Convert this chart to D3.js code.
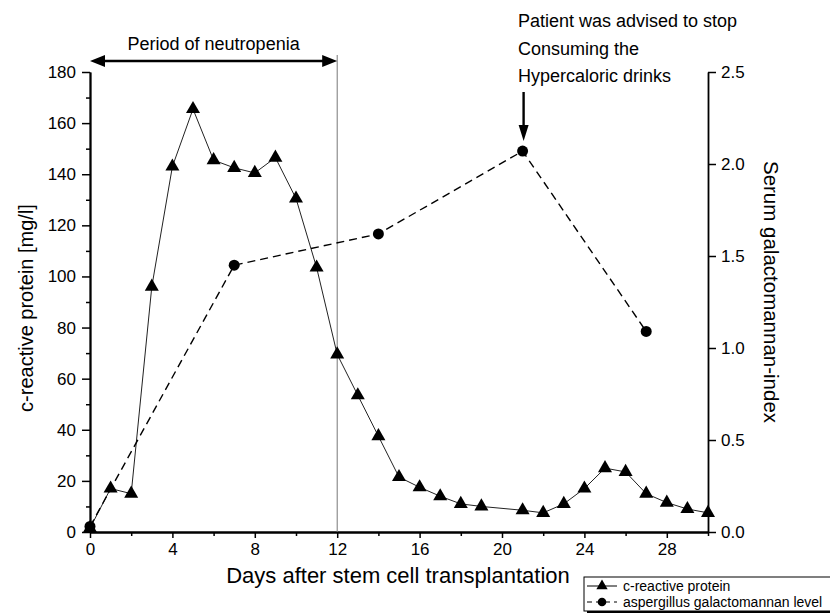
<!DOCTYPE html>
<html><head><meta charset="utf-8">
<script src="https://cdn.jsdelivr.net/npm/d3@7"></script>
<style>body{margin:0;background:#fff}svg{font-family:"Liberation Sans",Arial,sans-serif}</style>
</head><body><svg id="c" width="830" height="613"></svg>
<script>
const crpDays = [0,1,2,3,4,5,6,7,8,9,10,11,12,13,14,15,16,17,18,19,21,22,23,24,25,26,27,28,29,30];
const crpValues = [1.5,17,15,96,143,165.5,145.5,142.5,140.5,146.5,130.5,103.5,69.5,53.5,37.5,21.5,17.5,14,11,10,8.5,7.5,11,17,25,23.5,15,11.5,9,7.5];
const gmDays = [0,7,14,21,27];
const gmValues = [0.03,1.45,1.62,2.07,1.09];
const xTicks = [0,4,8,12,16,20,24,28];
const xMinorTicks = [2,6,10,14,18,22,26,30];
const yLeftTicks = [0,20,40,60,80,100,120,140,160,180];
const yLeftMinorTicks = [10,30,50,70,90,110,130,150,170];
const yRightTicks = [0,0.5,1.0,1.5,2.0,2.5];

const svg = d3.select("#c");
const x = d3.scaleLinear().domain([0,30]).range([90,708]);
const yL = d3.scaleLinear().domain([0,180]).range([532,72]);
const yR = d3.scaleLinear().domain([0,2.5]).range([532,72]);

// axes
svg.append("g").attr("transform","translate(0,532)")
  .call(d3.axisBottom(x).tickValues(xTicks).tickSize(6).tickPadding(5).tickSizeOuter(0));
svg.append("g").attr("transform","translate(0,532)")
  .call(d3.axisBottom(x).tickValues(xMinorTicks).tickSize(4).tickFormat("").tickSizeOuter(0));
svg.append("g").attr("transform","translate(90,0)")
  .call(d3.axisLeft(yL).tickValues(yLeftTicks).tickSize(8).tickPadding(6).tickSizeOuter(0));
svg.append("g").attr("transform","translate(90,0)")
  .call(d3.axisLeft(yL).tickValues(yLeftMinorTicks).tickSize(4).tickFormat("").tickSizeOuter(0));
svg.append("g").attr("transform","translate(708,0)")
  .call(d3.axisRight(yR).tickValues(yRightTicks).tickSize(8).tickPadding(5).tickFormat(d3.format(".1f")).tickSizeOuter(0));
svg.selectAll(".domain").attr("stroke","#000").attr("stroke-width",1.8);
svg.selectAll(".tick line").attr("stroke","#000").attr("stroke-width",1.5);
svg.selectAll(".tick text").attr("font-size",17).attr("fill","#000").attr("font-family","Liberation Sans, Arial, sans-serif");

// vertical line day 12
svg.append("line").attr("x1",x(12)).attr("x2",x(12)).attr("y1",55).attr("y2",532)
  .attr("stroke","#777").attr("stroke-width",1);

// period arrow
const ay = 61;
svg.append("line").attr("x1",x(0)+10).attr("x2",x(12)-10).attr("y1",ay).attr("y2",ay)
  .attr("stroke","#000").attr("stroke-width",2.5);
svg.append("path").attr("d",`M${x(0)},${ay}L${x(0)+15},${ay-6}L${x(0)+15},${ay+6}Z`).attr("fill","#000");
svg.append("path").attr("d",`M${x(12)},${ay}L${x(12)-15},${ay-6}L${x(12)-15},${ay+6}Z`).attr("fill","#000");
svg.append("text").attr("x",(x(0)+x(12))/2).attr("y",50).attr("text-anchor","middle").attr("font-size",18).text("Period of neutropenia");

// annotation
const ann = ["Patient was advised to stop","Consuming the","Hypercaloric drinks"];
svg.append("g").selectAll("text").data(ann).join("text")
  .attr("x",518).attr("y",(d,i)=>27+i*27.5).attr("font-size",18).text(d=>d);
const axx = x(21)+1;
svg.append("line").attr("x1",axx).attr("x2",axx).attr("y1",92).attr("y2",128)
  .attr("stroke","#000").attr("stroke-width",2.4);
svg.append("path").attr("d",`M${axx},141L${axx-5},125L${axx+5},125Z`).attr("fill","#000");

// lines
const crp = crpDays.map((d,i)=>[d,crpValues[i]]);
const gm = gmDays.map((d,i)=>[d,gmValues[i]]);
svg.append("path").datum(crp).attr("fill","none").attr("stroke","#222").attr("stroke-width",1)
  .attr("d",d3.line().x(d=>x(d[0])).y(d=>yL(d[1])));
svg.append("path").datum(gm).attr("fill","none").attr("stroke","#000").attr("stroke-width",1.4).attr("stroke-dasharray","8,5")
  .attr("d",d3.line().x(d=>x(d[0])).y(d=>yR(d[1])));
const tri = d3.symbol().type(d3.symbolTriangle).size(85);
svg.append("g").selectAll("path").data(crp).join("path")
  .attr("d",tri).attr("transform",d=>`translate(${x(d[0])},${yL(d[1])})`).attr("fill","#000");
svg.append("g").selectAll("circle").data(gm).join("circle")
  .attr("cx",d=>x(d[0])).attr("cy",d=>yR(d[1])).attr("r",5.5).attr("fill","#000");

// axis titles
svg.append("text").attr("transform","translate(33,308) rotate(-90)").attr("text-anchor","middle").attr("font-size",20).text("c-reactive protein [mg/l]");
svg.append("text").attr("transform","translate(764,292) rotate(90)").attr("text-anchor","middle").attr("font-size",20.5).text("Serum galactomannan-index");
svg.append("text").attr("x",398).attr("y",583).attr("text-anchor","middle").attr("font-size",22).text("Days after stem cell transplantation");

// legend
const lg = svg.append("g");
lg.append("rect").attr("x",587).attr("y",580).attr("width",250).attr("height",40).attr("fill","#000");
lg.append("rect").attr("x",584).attr("y",577).attr("width",250).attr("height",34).attr("fill","#fff").attr("stroke","#000").attr("stroke-width",1);
const legItems = [{name:"c-reactive protein",dash:null,sym:"tri"},{name:"aspergillus galactomannan level",dash:"5,4",sym:"circ"}];
legItems.forEach((it,i)=>{
  const yy = 586+i*16;
  lg.append("line").attr("x1",587).attr("x2",617).attr("y1",yy).attr("y2",yy).attr("stroke","#000").attr("stroke-width",1).attr("stroke-dasharray",it.dash);
  if(it.sym==="tri") lg.append("path").attr("d",d3.symbol().type(d3.symbolTriangle).size(55)).attr("transform",`translate(602,${yy})`);
  else lg.append("circle").attr("cx",602).attr("cy",yy).attr("r",4.3);
  lg.append("text").attr("x",623).attr("y",yy+5).attr("font-size",14).text(it.name);
});
</script></body></html>
